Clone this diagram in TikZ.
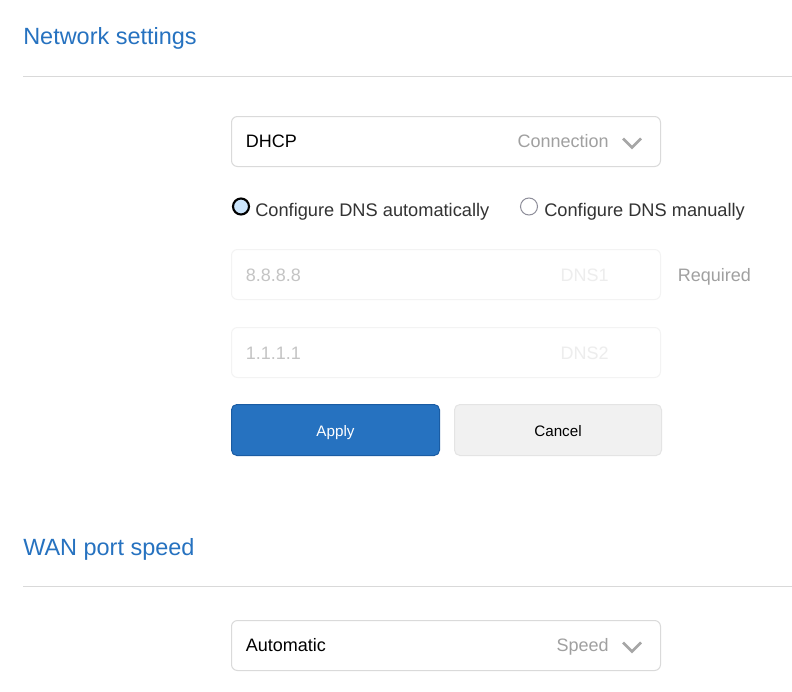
\documentclass[tikz,border=0pt]{standalone}
\usepackage{fontspec}
\setmainfont{Liberation Sans}
\definecolor{titleblue}{HTML}{2672C0}
\definecolor{rulegray}{HTML}{D9D9D9}
\definecolor{boxline}{HTML}{DADADA}
\definecolor{faintline}{HTML}{F3F3F3}
\definecolor{labelgray}{HTML}{A0A0A0}
\definecolor{bodytext}{HTML}{333333}
\definecolor{fainttext}{HTML}{C4C4C4}
\definecolor{fainterlabel}{HTML}{EDEDED}
\definecolor{applyline}{HTML}{1A5CA3}
\definecolor{cancelfill}{HTML}{F1F1F1}
\definecolor{cancelline}{HTML}{E4E4E4}
\definecolor{radiofill}{HTML}{CBE5FC}
\definecolor{radioline}{HTML}{8E8E9A}
\definecolor{chevron}{HTML}{A6A6A6}
\tikzset{
  x=0.75pt, y=-0.75pt,
  field/.style={draw=boxline, line width=0.75pt, fill=white, rounded corners=4.5pt},
  faintfield/.style={draw=faintline, line width=0.75pt, fill=white, rounded corners=4.5pt},
  heading/.style={anchor=base west, inner sep=0pt, text=titleblue, font=\fontsize{17.6pt}{22pt}\selectfont},
  value/.style={anchor=base west, inner sep=0pt, text=black, font=\fontsize{13.5pt}{16pt}\selectfont},
  rlabel/.style={anchor=base east, inner sep=0pt, text=labelgray, font=\fontsize{13.5pt}{16pt}\selectfont},
  radiotext/.style={anchor=base west, inner sep=0pt, text=bodytext, font=\fontsize{13.67pt}{16pt}\selectfont},
  btntext/.style={anchor=base, inner sep=0pt, font=\fontsize{11.4pt}{14pt}\selectfont},
  chev/.style={draw=chevron, line width=1.9pt, line join=miter},
  sep/.style={draw=rulegray, line width=0.75pt}
}
\begin{document}
\begin{tikzpicture}
\useasboundingbox (0,0) rectangle (792,692);
\fill[white] (0,0) rectangle (792,692);
% headings
\node[heading] (h1) at (23,45) {Network settings};
\draw[sep] (23,76.5) -- (792,76.5);
\node[heading] (h2) at (23,555.5) {WAN port speed};
\draw[sep] (23,586.5) -- (792,586.5);
% connection select
\draw[field] (231.5,116.5) rectangle (660.5,166.5);
\node[value] (dhcp) at (245.5,147.5) {DHCP};
\node[rlabel] (conn) at (609,147.5) {Connection};
\draw[chev] (623,138.5) -- (632,147.5) -- (641,138.5);
% radios
\draw[black, line width=1.6pt, fill=radiofill] (241,206.5) circle (8);
\node[radiotext] (auto) at (255,216) {Configure DNS automatically};
\draw[radioline, line width=0.75pt, fill=white] (529,206.5) circle (8.5);
\node[radiotext] (man) at (544,216) {Configure DNS manually};
% DNS1
\draw[faintfield] (231.5,249.5) rectangle (660.5,299.5);
\node[value, text=fainttext] (d1) at (245.5,281) {8.8.8.8};
\node[rlabel, text=fainterlabel] (l1) at (609,281) {DNS1};
\node[anchor=base west, inner sep=0pt, text=labelgray, font=\fontsize{13.5pt}{16pt}\selectfont] (req) at (677.5,281) {Required};
% DNS2
\draw[faintfield] (231.5,327.5) rectangle (660.5,377.5);
\node[value, text=fainttext] (d2) at (245.5,359) {1.1.1.1};
\node[rlabel, text=fainterlabel] (l2) at (609,359) {DNS2};
% buttons
\draw[draw=applyline, fill=titleblue, line width=0.75pt, rounded corners=4pt] (231.5,404.5) rectangle (439.5,455.5);
\node[btntext, text=white] (apply) at (335.5,436) {Apply};
\draw[draw=cancelline, fill=cancelfill, line width=0.75pt, rounded corners=4pt] (454.5,404.5) rectangle (661.5,455.5);
\node[btntext, text=black] (cancel) at (558,436) {Cancel};
% speed select
\draw[field] (231.5,620.5) rectangle (660.5,670.5);
\node[value] (autom) at (245.5,651.5) {Automatic};
\node[rlabel] (speed) at (609,651.5) {Speed};
\draw[chev] (623,642.5) -- (632,651.5) -- (641,642.5);
\end{tikzpicture}
\end{document}
